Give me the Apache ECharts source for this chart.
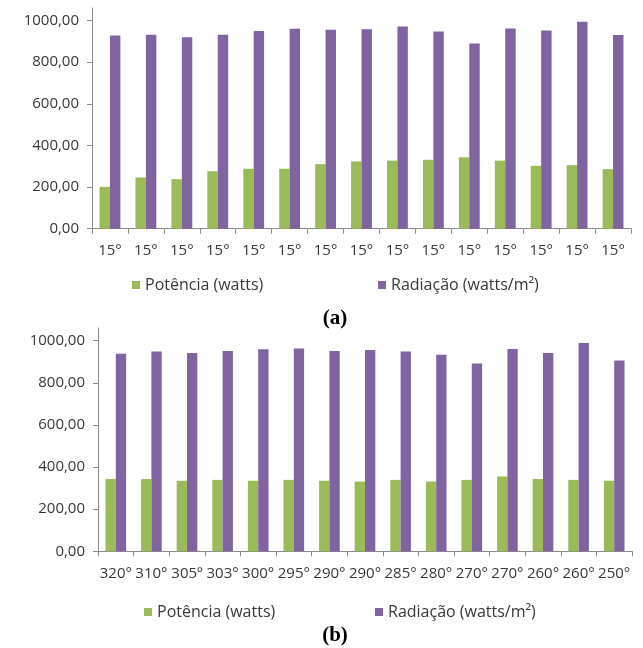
<!DOCTYPE html>
<html>
<head>
<meta charset="utf-8">
<script src="https://cdn.jsdelivr.net/npm/echarts@6/dist/echarts.min.js"></script>
<style>
html,body{margin:0;padding:0;background:#fff;}
#c{width:643px;height:648px;}
</style>
</head>
<body>
<div id="c"></div>
<script>
const catsA = ['15°','15°','15°','15°','15°','15°','15°','15°','15°','15°','15°','15°','15°','15°','15°'];
const potA = [201,246,238,276,288,288,310,323,327,331,343,327,302,305,286];
const radA = [928,931,920,931,950,960,955,958,971,947,890,962,952,994,930];

const catsB = ['320°','310°','305º','303°','300°','295°','290°','290°','285°','280°','270°','270°','260°','260°','250°'];
const potB = [343,343,335,339,335,339,335,331,339,331,339,355,343,339,335];
const radB = [938,948,941,951,959,963,951,955,948,933,892,960,941,989,906];

const nameP = 'Potência (watts)';
const nameR = 'Radiação (watts/m²)';
const green = '#9BBB59';
const purple = '#8064A2';
const txt = '#383838';
const axisCol = '#8a8a8a';
const font = 'Open Sans';

function yAxis(idx){
  return {
    type:'value', gridIndex:idx, min:0, max:1060, interval:200,
    axisLine:{show:true, lineStyle:{color:axisCol}},
    axisTick:{show:true, length:5, lineStyle:{color:axisCol}},
    splitLine:{show:false},
    axisLabel:{color:txt, fontFamily:font, fontSize:15, margin:13, showMaxLabel:false,
      formatter:v => (v%200===0) ? v.toFixed(2).replace('.',',') : ''}
  };
}
function xAxis(idx, cats){
  return {
    type:'category', gridIndex:idx, data:cats,
    axisLine:{lineStyle:{color:axisCol}},
    axisTick:{show:true, length:5, lineStyle:{color:axisCol}},
    axisLabel:{color:txt, fontFamily:font, fontSize:15, margin:15, interval:0}
  };
}
function bar(name, color, data, idx){
  return {
    name, type:'bar', xAxisIndex:idx, yAxisIndex:idx, data,
    barGap:'0%', barCategoryGap:'42%',
    itemStyle:{color}, animation:false
  };
}
const legendText = {color:txt, fontFamily:font, fontSize:16};
function legend(name, left, top){
  return {data:[name], left, top, padding:0, icon:'rect', itemWidth:8, itemHeight:8, itemGap:5, textStyle:legendText};
}
const option = {
  animation:false,
  grid:[
    {left:92, right:12, top:8, height:220.7},
    {left:98, right:11, top:328, height:223.3}
  ],
  xAxis:[xAxis(0, catsA), xAxis(1, catsB)],
  yAxis:[yAxis(0), yAxis(1)],
  legend:[
    legend(nameP, 132, 277),
    legend(nameR, 378, 277),
    legend(nameP, 144, 604),
    legend(nameR, 375, 604)
  ],
  title:[
    {text:'(a)', left:330, top:303, textAlign:'center', textStyle:{fontFamily:'Liberation Serif', fontWeight:'bold', fontSize:21, color:'#000'}},
    {text:'(b)', left:330, top:620, textAlign:'center', textStyle:{fontFamily:'Liberation Serif', fontWeight:'bold', fontSize:21, color:'#000'}}
  ],
  series:[
    bar(nameP, green, potA, 0),
    bar(nameR, purple, radA, 0),
    bar(nameP, green, potB, 1),
    bar(nameR, purple, radB, 1)
  ]
};
const chart = echarts.init(document.getElementById('c'), null, {renderer:'canvas'});
chart.setOption(option);
</script>
</body>
</html>
